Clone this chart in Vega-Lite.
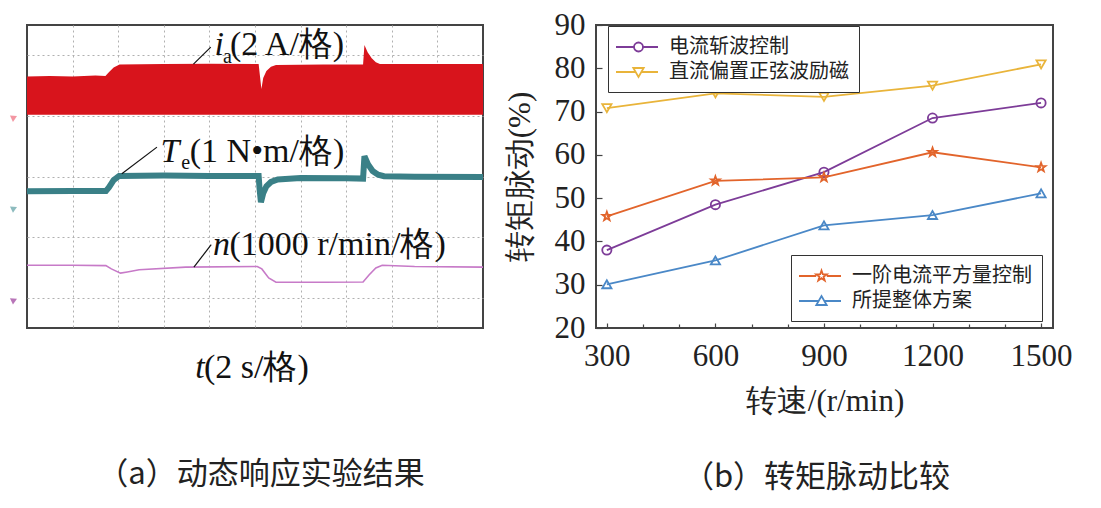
{
  "$schema": "https://vega.github.io/schema/vega-lite/v6.json",
  "background": "white",
  "padding": {"left": 8, "top": 8, "right": 0, "bottom": 0},
  "spacing": 7,
  "config": {
    "view": {"stroke": "#444", "strokeWidth": 2},
    "font": "Liberation Serif"
  },
  "datasets": {
    "ia": [
      {"t": 0, "v": 8.30}, {"t": 0.5, "v": 8.32}, {"t": 1.0, "v": 8.30}, {"t": 1.5, "v": 8.33}, {"t": 1.72, "v": 8.32},
      {"t": 1.80, "v": 8.45}, {"t": 1.90, "v": 8.60}, {"t": 2.03, "v": 8.70}, {"t": 3.0, "v": 8.71}, {"t": 4.0, "v": 8.72},
      {"t": 5.08, "v": 8.71}, {"t": 5.11, "v": 8.30}, {"t": 5.14, "v": 7.89}, {"t": 5.18, "v": 8.25}, {"t": 5.25, "v": 8.48},
      {"t": 5.35, "v": 8.62}, {"t": 5.46, "v": 8.68}, {"t": 6.5, "v": 8.70}, {"t": 7.37, "v": 8.70}, {"t": 7.40, "v": 9.34},
      {"t": 7.47, "v": 9.10}, {"t": 7.56, "v": 8.90}, {"t": 7.65, "v": 8.77}, {"t": 7.74, "v": 8.71}, {"t": 8.5, "v": 8.71},
      {"t": 10, "v": 8.71}
    ],
    "te": [
      {"t": 0, "v": 4.51}, {"t": 1.0, "v": 4.52}, {"t": 1.73, "v": 4.52}, {"t": 1.80, "v": 4.65}, {"t": 1.90, "v": 4.88},
      {"t": 2.02, "v": 5.02}, {"t": 3.0, "v": 5.03}, {"t": 4.0, "v": 5.02}, {"t": 5.08, "v": 5.02}, {"t": 5.10, "v": 4.60},
      {"t": 5.13, "v": 4.15}, {"t": 5.18, "v": 4.45}, {"t": 5.25, "v": 4.68}, {"t": 5.35, "v": 4.82}, {"t": 5.5, "v": 4.90},
      {"t": 6.0, "v": 4.95}, {"t": 7.0, "v": 4.94}, {"t": 7.37, "v": 4.93}, {"t": 7.40, "v": 5.67}, {"t": 7.48, "v": 5.40},
      {"t": 7.58, "v": 5.18}, {"t": 7.70, "v": 5.06}, {"t": 7.83, "v": 5.01}, {"t": 8.5, "v": 4.99}, {"t": 10, "v": 4.98}
    ],
    "n": [
      {"t": 0, "v": 2.07}, {"t": 1.0, "v": 2.07}, {"t": 1.73, "v": 2.06}, {"t": 1.85, "v": 1.95}, {"t": 2.05, "v": 1.81},
      {"t": 2.2, "v": 1.85}, {"t": 2.46, "v": 1.92}, {"t": 3.48, "v": 2.01}, {"t": 5.05, "v": 2.03}, {"t": 5.15, "v": 1.95},
      {"t": 5.30, "v": 1.65}, {"t": 5.46, "v": 1.51}, {"t": 6.5, "v": 1.51}, {"t": 7.37, "v": 1.52}, {"t": 7.50, "v": 1.75},
      {"t": 7.65, "v": 1.98}, {"t": 7.79, "v": 2.07}, {"t": 8.5, "v": 2.03}, {"t": 10, "v": 2.01}
    ],
    "ripple": [
      {"speed": 300, "value": 38.0, "series": "电流斩波控制"},
      {"speed": 600, "value": 48.5, "series": "电流斩波控制"},
      {"speed": 900, "value": 56.0, "series": "电流斩波控制"},
      {"speed": 1200, "value": 68.5, "series": "电流斩波控制"},
      {"speed": 1500, "value": 72.0, "series": "电流斩波控制"},
      {"speed": 300, "value": 70.8, "series": "直流偏置正弦波励磁"},
      {"speed": 600, "value": 74.2, "series": "直流偏置正弦波励磁"},
      {"speed": 900, "value": 73.4, "series": "直流偏置正弦波励磁"},
      {"speed": 1200, "value": 76.0, "series": "直流偏置正弦波励磁"},
      {"speed": 1500, "value": 80.9, "series": "直流偏置正弦波励磁"},
      {"speed": 300, "value": 45.8, "series": "一阶电流平方量控制"},
      {"speed": 600, "value": 54.0, "series": "一阶电流平方量控制"},
      {"speed": 900, "value": 54.8, "series": "一阶电流平方量控制"},
      {"speed": 1200, "value": 60.6, "series": "一阶电流平方量控制"},
      {"speed": 1500, "value": 57.1, "series": "一阶电流平方量控制"},
      {"speed": 300, "value": 30.1, "series": "所提整体方案"},
      {"speed": 600, "value": 35.6, "series": "所提整体方案"},
      {"speed": 900, "value": 43.7, "series": "所提整体方案"},
      {"speed": 1200, "value": 46.1, "series": "所提整体方案"},
      {"speed": 1500, "value": 51.1, "series": "所提整体方案"}
    ]
  },
  "hconcat": [
    {
      "width": 456,
      "height": 303,
      "title": {"text": "（a）动态响应实验结果", "orient": "bottom", "frame": "group", "anchor": "middle", "offset": 75, "font": "Noto Sans CJK SC", "fontSize": 31, "fontWeight": "normal", "color": "#222", "dx": 6},
      "layer": [
        {
          "data": {"name": "ia"},
          "mark": {"type": "area", "color": "#D8141C", "line": false},
          "encoding": {
            "x": {"field": "t", "type": "quantitative", "scale": {"domain": [0, 10], "nice": false, "zero": false},
                  "axis": {"values": [1, 2, 3, 4, 5, 6, 7, 8, 9], "grid": true, "gridDash": [2, 3], "gridColor": "#b0b0b0", "gridWidth": 1, "labels": false, "ticks": false, "domain": false, "title": null}},
            "y": {"field": "v", "type": "quantitative", "scale": {"domain": [0, 10], "nice": false, "zero": false},
                  "axis": {"values": [1, 2, 3, 4, 5, 6, 7, 8, 9], "grid": true, "gridDash": [2, 3], "gridColor": "#b0b0b0", "gridWidth": 1, "labels": false, "ticks": false, "domain": false, "title": null}},
            "y2": {"datum": 7.04}
          }
        },
        {
          "data": {"name": "te"},
          "mark": {"type": "line", "color": "#3A8087", "strokeWidth": 6},
          "encoding": {"x": {"field": "t", "type": "quantitative"}, "y": {"field": "v", "type": "quantitative"}}
        },
        {
          "data": {"name": "n"},
          "mark": {"type": "line", "color": "#C77AC8", "strokeWidth": 1.6},
          "encoding": {"x": {"field": "t", "type": "quantitative"}, "y": {"field": "v", "type": "quantitative"}}
        },
        {"data": {"values": [{}]}, "mark": {"type": "point", "shape": "triangle-right", "filled": true, "size": 50, "color": "#EE6A7A", "angle": -25}, "encoding": {"x": {"datum": -0.28, "type": "quantitative"}, "y": {"datum": 6.95, "type": "quantitative"}}},
        {"data": {"values": [{}]}, "mark": {"type": "point", "shape": "triangle-right", "filled": true, "size": 50, "color": "#5C9EA3", "angle": -25}, "encoding": {"x": {"datum": -0.28, "type": "quantitative"}, "y": {"datum": 3.95, "type": "quantitative"}}},
        {"data": {"values": [{}]}, "mark": {"type": "point", "shape": "triangle-right", "filled": true, "size": 50, "color": "#9A3A9A", "angle": -25}, "encoding": {"x": {"datum": -0.28, "type": "quantitative"}, "y": {"datum": 0.92, "type": "quantitative"}}},
        {"data": {"values": [{}]}, "mark": {"type": "rule", "color": "#111", "strokeWidth": 1.2}, "encoding": {"x": {"datum": 3.65, "type": "quantitative"}, "y": {"datum": 8.71, "type": "quantitative"}, "x2": {"datum": 4.03}, "y2": {"datum": 9.27}}},
        {"data": {"values": [{}]}, "mark": {"type": "rule", "color": "#111", "strokeWidth": 1.2}, "encoding": {"x": {"datum": 2.08, "type": "quantitative"}, "y": {"datum": 5.09, "type": "quantitative"}, "x2": {"datum": 2.85}, "y2": {"datum": 5.97}}},
        {"data": {"values": [{}]}, "mark": {"type": "rule", "color": "#111", "strokeWidth": 1.2}, "encoding": {"x": {"datum": 3.66, "type": "quantitative"}, "y": {"datum": 2.01, "type": "quantitative"}, "x2": {"datum": 4.04}, "y2": {"datum": 2.75}}},
        {"data": {"values": [{}]}, "mark": {"type": "text", "text": "i", "font": "Liberation Serif", "fontStyle": "italic", "fontSize": 34, "align": "left", "baseline": "alphabetic", "color": "#111"}, "encoding": {"x": {"datum": 4.11, "type": "quantitative"}, "y": {"datum": 9.0, "type": "quantitative"}}},
        {"data": {"values": [{}]}, "mark": {"type": "text", "text": "a", "font": "Liberation Serif", "fontSize": 20, "align": "left", "baseline": "alphabetic", "color": "#111"}, "encoding": {"x": {"datum": 4.30, "type": "quantitative"}, "y": {"datum": 8.74, "type": "quantitative"}}},
        {"data": {"values": [{}]}, "mark": {"type": "text", "text": "(2 A/格)", "font": "Liberation Serif", "fontSize": 34, "align": "left", "baseline": "alphabetic", "color": "#111"}, "encoding": {"x": {"datum": 4.45, "type": "quantitative"}, "y": {"datum": 9.0, "type": "quantitative"}}},
        {"data": {"values": [{}]}, "mark": {"type": "text", "text": "T", "font": "Liberation Serif", "fontStyle": "italic", "fontSize": 34, "align": "left", "baseline": "alphabetic", "color": "#111"}, "encoding": {"x": {"datum": 2.93, "type": "quantitative"}, "y": {"datum": 5.47, "type": "quantitative"}}},
        {"data": {"values": [{}]}, "mark": {"type": "text", "text": "e", "font": "Liberation Serif", "fontSize": 20, "align": "left", "baseline": "alphabetic", "color": "#111"}, "encoding": {"x": {"datum": 3.38, "type": "quantitative"}, "y": {"datum": 5.26, "type": "quantitative"}}},
        {"data": {"values": [{}]}, "mark": {"type": "text", "text": "(1 N•m/格)", "font": "Liberation Serif", "fontSize": 34, "align": "left", "baseline": "alphabetic", "color": "#111"}, "encoding": {"x": {"datum": 3.57, "type": "quantitative"}, "y": {"datum": 5.47, "type": "quantitative"}}},
        {"data": {"values": [{}]}, "mark": {"type": "text", "text": "n", "font": "Liberation Serif", "fontStyle": "italic", "fontSize": 34, "align": "left", "baseline": "alphabetic", "color": "#111"}, "encoding": {"x": {"datum": 4.08, "type": "quantitative"}, "y": {"datum": 2.40, "type": "quantitative"}}},
        {"data": {"values": [{}]}, "mark": {"type": "text", "text": "(1000 r/min/格)", "font": "Liberation Serif", "fontSize": 34, "align": "left", "baseline": "alphabetic", "color": "#111"}, "encoding": {"x": {"datum": 4.44, "type": "quantitative"}, "y": {"datum": 2.40, "type": "quantitative"}}},
        {"data": {"values": [{}]}, "mark": {"type": "text", "text": "t", "font": "Liberation Serif", "fontStyle": "italic", "fontSize": 34, "align": "left", "baseline": "alphabetic", "color": "#111"}, "encoding": {"x": {"datum": 3.69, "type": "quantitative"}, "y": {"datum": -1.65, "type": "quantitative"}}},
        {"data": {"values": [{}]}, "mark": {"type": "text", "text": "(2 s/格)", "font": "Liberation Serif", "fontSize": 34, "align": "left", "baseline": "alphabetic", "color": "#111"}, "encoding": {"x": {"datum": 3.88, "type": "quantitative"}, "y": {"datum": -1.65, "type": "quantitative"}}}
      ]
    },
    {
      "width": 457,
      "height": 303,
      "data": {"name": "ripple"},
      "title": {"text": "（b）转矩脉动比较", "orient": "bottom", "frame": "group", "anchor": "middle", "offset": 47, "font": "Noto Sans CJK SC", "fontSize": 31, "fontWeight": "normal", "color": "#222", "dx": -8},
      "layer": [
        {
          "mark": {"type": "line", "strokeWidth": 1.8},
          "encoding": {
            "x": {"field": "speed", "type": "quantitative", "scale": {"domain": [270, 1533], "nice": false, "zero": false},
                  "axis": {"orient": "bottom", "values": [400, 500, 700, 800, 1000, 1100, 1300, 1400], "labels": false, "title": null, "grid": false, "domain": false, "tickSize": -4, "tickColor": "#444", "tickWidth": 1.2}},
            "y": {"field": "value", "type": "quantitative", "scale": {"domain": [20, 90], "nice": false, "zero": false},
                  "axis": {"values": [20, 30, 40, 50, 60, 70, 80, 90], "labelOverlap": false, "title": "转矩脉动(%)", "grid": false, "domain": false, "tickSize": -6, "tickColor": "#444", "tickWidth": 1.2, "labelFontSize": 31, "labelColor": "#222", "labelPadding": 17, "labelFont": "Liberation Serif", "titleFontSize": 31, "titleFontWeight": "normal", "titleColor": "#222", "titleFont": "Liberation Serif", "titlePadding": 18}},
            "color": {"field": "series", "type": "nominal", "scale": {"domain": ["电流斩波控制", "直流偏置正弦波励磁", "一阶电流平方量控制", "所提整体方案"], "range": ["#7D3C98", "#E9B43A", "#E2642B", "#4A88C7"]}, "legend": null},
            "detail": {"field": "series"}
          }
        },
        {
          "mark": {"type": "point", "filled": false, "strokeWidth": 1.8, "size": 85, "opacity": 1},
          "encoding": {
            "x": {"field": "speed", "type": "quantitative",
                  "axis": {"orient": "bottom", "values": [300, 600, 900, 1200, 1500], "labelOverlap": false, "format": "d", "title": "转速/(r/min)", "grid": false, "domain": false, "tickSize": -5, "tickColor": "#444", "tickWidth": 1.2, "labelFontSize": 31, "labelColor": "#222", "labelPadding": 18, "labelFont": "Liberation Serif", "titleFontSize": 31, "titleFontWeight": "normal", "titleColor": "#222", "titleFont": "Liberation Serif", "titlePadding": 15}},
            "y": {"field": "value", "type": "quantitative"},
            "color": {"field": "series", "type": "nominal", "scale": {"domain": ["电流斩波控制", "直流偏置正弦波励磁", "一阶电流平方量控制", "所提整体方案"], "range": ["#7D3C98", "#E9B43A", "#E2642B", "#4A88C7"]}, "legend": null},
            "shape": {"field": "series", "type": "nominal", "scale": {"domain": ["电流斩波控制", "直流偏置正弦波励磁", "一阶电流平方量控制", "所提整体方案"], "range": ["circle", "triangle-down", "M0,-1L0.235,-0.324L0.951,-0.309L0.38,0.124L0.588,0.809L0,0.4L-0.588,0.809L-0.38,0.124L-0.951,-0.309L-0.235,-0.324Z", "triangle-up"]}, "legend": null}
          }
        },
        {
          "transform": [{"filter": "datum.series == '电流斩波控制' || datum.series == '直流偏置正弦波励磁'"}],
          "mark": {"type": "point", "filled": false, "opacity": 0},
          "encoding": {
            "x": {"field": "speed", "type": "quantitative", "axis": null},
            "y": {"field": "value", "type": "quantitative"},
            "color": {"field": "series", "type": "nominal", "scale": {"domain": ["电流斩波控制", "直流偏置正弦波励磁"], "range": ["#7D3C98", "#E9B43A"]},
                      "legend": {"orient": "none", "legendX": 12, "legendY": 1, "title": null, "symbolOpacity": 1, "symbolSize": 400, "symbolStrokeWidth": 1.8, "symbolFillColor": "white", "strokeColor": "#333", "fillColor": "white", "padding": 10, "rowPadding": 4, "labelOffset": 29, "labelLimit": 400, "labelFont": "Noto Sans CJK SC", "labelFontSize": 20, "labelColor": "#222"}},
            "shape": {"field": "series", "type": "nominal", "scale": {"domain": ["电流斩波控制", "直流偏置正弦波励磁"], "range": ["M-1.3,0L0.5,0M1.4,0L2.9,0M1.4,0A0.45,0.45,0,1,1,0.5,0A0.45,0.45,0,1,1,1.4,0Z", "M-1.3,0L0.66,0M1.24,0L2.9,0M0.43,-0.4L1.47,-0.4L0.95,0.5Z"]},
                      "legend": {"orient": "none", "legendX": 12, "legendY": 1, "title": null, "symbolOpacity": 1, "symbolSize": 400, "symbolStrokeWidth": 1.8, "symbolFillColor": "white", "strokeColor": "#333", "fillColor": "white", "padding": 10, "rowPadding": 4, "labelOffset": 29, "labelLimit": 400, "labelFont": "Noto Sans CJK SC", "labelFontSize": 20, "labelColor": "#222"}}
          }
        },
        {
          "transform": [{"filter": "datum.series == '一阶电流平方量控制' || datum.series == '所提整体方案'"}],
          "mark": {"type": "point", "filled": false, "opacity": 0},
          "encoding": {
            "x": {"field": "speed", "type": "quantitative", "axis": null},
            "y": {"field": "value", "type": "quantitative"},
            "color": {"field": "series", "type": "nominal", "scale": {"domain": ["一阶电流平方量控制", "所提整体方案"], "range": ["#E2642B", "#4A88C7"]},
                      "legend": {"orient": "none", "legendX": 195, "legendY": 230, "title": null, "symbolOpacity": 1, "symbolSize": 400, "symbolStrokeWidth": 1.8, "symbolFillColor": "white", "strokeColor": "#333", "fillColor": "white", "padding": 10, "rowPadding": 4, "labelOffset": 29, "labelLimit": 400, "labelFont": "Noto Sans CJK SC", "labelFontSize": 20, "labelColor": "#222"}},
            "shape": {"field": "series", "type": "nominal", "scale": {"domain": ["一阶电流平方量控制", "所提整体方案"], "range": ["M-1.3,0L0.42,0M1.48,0L2.9,0M0.95,-0.55L1.079,-0.178L1.473,-0.17L1.159,0.068L1.273,0.445L0.95,0.22L0.627,0.445L0.741,0.068L0.427,-0.17L0.821,-0.178Z", "M-1.3,0L0.66,0M1.24,0L2.9,0M0.43,0.4L1.47,0.4L0.95,-0.5Z"]},
                      "legend": {"orient": "none", "legendX": 195, "legendY": 230, "title": null, "symbolOpacity": 1, "symbolSize": 400, "symbolStrokeWidth": 1.8, "symbolFillColor": "white", "strokeColor": "#333", "fillColor": "white", "padding": 10, "rowPadding": 4, "labelOffset": 29, "labelLimit": 400, "labelFont": "Noto Sans CJK SC", "labelFontSize": 20, "labelColor": "#222"}}
          }
        }
      ],
      "resolve": {"scale": {"color": "independent", "shape": "independent"}, "axis": {"x": "independent"}}
    }
  ]
}
